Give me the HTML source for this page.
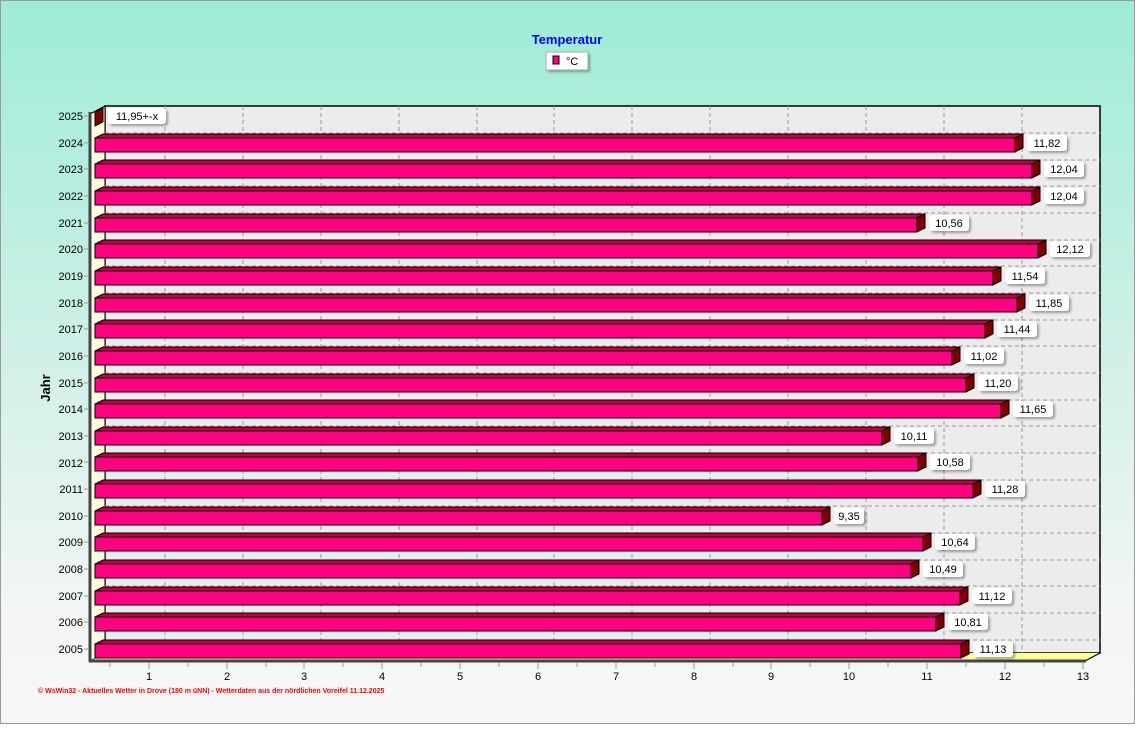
<!DOCTYPE html>
<html><head><meta charset="utf-8"><style>
html,body{margin:0;padding:0;}
body{width:1135px;height:724px;overflow:hidden;font-family:"Liberation Sans",sans-serif;}
svg text{font-family:"Liberation Sans",sans-serif;}
</style></head><body>
<svg width="1135" height="724" viewBox="0 0 1135 724" xmlns="http://www.w3.org/2000/svg">
<defs>
<linearGradient id="bg" x1="0" y1="0" x2="0" y2="1">
<stop offset="0" stop-color="#9decd6"/>
<stop offset="0.55" stop-color="#d6f1ea"/>
<stop offset="0.85" stop-color="#f3f6f5"/>
<stop offset="1" stop-color="#f7f7f7"/>
</linearGradient>
<filter id="sh" x="-20%" y="-20%" width="150%" height="160%"><feDropShadow dx="2" dy="2" stdDeviation="1.2" flood-color="#000" flood-opacity="0.35"/></filter>
<g id="lb"><rect x="0" y="-8" width="40" height="16" rx="3" fill="#fff" filter="url(#sh)"/></g>
</defs>
<rect x="0" y="0" width="1135" height="724" fill="url(#bg)"/>
<rect x="0.5" y="0.5" width="1134" height="723" fill="none" stroke="#9a9a9a"/>
<text x="567" y="44" text-anchor="middle" font-size="13" font-weight="bold" fill="#0000ff">Temperatur</text>
<rect x="546" y="52" width="42" height="18" fill="#fff" filter="url(#sh)"/>
<rect x="546" y="52" width="42" height="18" fill="none" stroke="#aaa"/>
<rect x="553" y="56" width="6" height="8" fill="#ff0080" stroke="#000" stroke-width="1"/>
<text x="566" y="65" font-size="11" fill="#000">°C</text>
<!-- back plane -->
<rect x="105" y="106" width="995" height="547" fill="#ececec" stroke="#000" stroke-width="1.5"/>
<!-- left wall and floor -->
<polygon points="90,114 105,106 105,653 90,661" fill="#fffde0" stroke="#000" stroke-width="1"/>
<polygon points="90,661 105,653 1100,653 1085,661" fill="#ffff99"/>
<line x1="1100" y1="653" x2="1085" y2="661" stroke="#000"/>
<!-- gridlines -->
<g stroke="#999" stroke-dasharray="4,3" stroke-width="1">
<line x1="165" y1="106" x2="165" y2="653"/><line x1="243" y1="106" x2="243" y2="653"/><line x1="321" y1="106" x2="321" y2="653"/><line x1="399" y1="106" x2="399" y2="653"/><line x1="477" y1="106" x2="477" y2="653"/><line x1="554" y1="106" x2="554" y2="653"/><line x1="632" y1="106" x2="632" y2="653"/><line x1="710" y1="106" x2="710" y2="653"/><line x1="788" y1="106" x2="788" y2="653"/><line x1="866" y1="106" x2="866" y2="653"/><line x1="944" y1="106" x2="944" y2="653"/><line x1="1022" y1="106" x2="1022" y2="653"/>
<line x1="105" y1="133" x2="1100" y2="133"/><line x1="105" y1="160" x2="1100" y2="160"/><line x1="105" y1="186" x2="1100" y2="186"/><line x1="105" y1="213" x2="1100" y2="213"/><line x1="105" y1="240" x2="1100" y2="240"/><line x1="105" y1="266" x2="1100" y2="266"/><line x1="105" y1="293" x2="1100" y2="293"/><line x1="105" y1="320" x2="1100" y2="320"/><line x1="105" y1="346" x2="1100" y2="346"/><line x1="105" y1="373" x2="1100" y2="373"/><line x1="105" y1="400" x2="1100" y2="400"/><line x1="105" y1="426" x2="1100" y2="426"/><line x1="105" y1="453" x2="1100" y2="453"/><line x1="105" y1="480" x2="1100" y2="480"/><line x1="105" y1="506" x2="1100" y2="506"/><line x1="105" y1="533" x2="1100" y2="533"/><line x1="105" y1="560" x2="1100" y2="560"/><line x1="105" y1="586" x2="1100" y2="586"/><line x1="105" y1="613" x2="1100" y2="613"/><line x1="105" y1="640" x2="1100" y2="640"/>
</g>
<!-- axes -->
<line x1="90" y1="112" x2="90" y2="662" stroke="#444" stroke-width="3"/>
<line x1="89" y1="661" x2="1086" y2="661" stroke="#444" stroke-width="3"/>
<g stroke="#999" stroke-width="1">
<line x1="110" y1="663" x2="110" y2="667"/><line x1="149" y1="663" x2="149" y2="669"/><line x1="188" y1="663" x2="188" y2="667"/><line x1="227" y1="663" x2="227" y2="669"/><line x1="266" y1="663" x2="266" y2="667"/><line x1="304" y1="663" x2="304" y2="669"/><line x1="343" y1="663" x2="343" y2="667"/><line x1="382" y1="663" x2="382" y2="669"/><line x1="421" y1="663" x2="421" y2="667"/><line x1="460" y1="663" x2="460" y2="669"/><line x1="499" y1="663" x2="499" y2="667"/><line x1="538" y1="663" x2="538" y2="669"/><line x1="577" y1="663" x2="577" y2="667"/><line x1="616" y1="663" x2="616" y2="669"/><line x1="655" y1="663" x2="655" y2="667"/><line x1="694" y1="663" x2="694" y2="669"/><line x1="733" y1="663" x2="733" y2="667"/><line x1="771" y1="663" x2="771" y2="669"/><line x1="810" y1="663" x2="810" y2="667"/><line x1="849" y1="663" x2="849" y2="669"/><line x1="888" y1="663" x2="888" y2="667"/><line x1="927" y1="663" x2="927" y2="669"/><line x1="966" y1="663" x2="966" y2="667"/><line x1="1005" y1="663" x2="1005" y2="669"/><line x1="1044" y1="663" x2="1044" y2="667"/><line x1="1083" y1="663" x2="1083" y2="669"/>
</g>
<g font-size="11" text-anchor="middle" fill="#000">
<text x="149" y="680">1</text><text x="227" y="680">2</text><text x="304" y="680">3</text><text x="382" y="680">4</text><text x="460" y="680">5</text><text x="538" y="680">6</text><text x="616" y="680">7</text><text x="694" y="680">8</text><text x="771" y="680">9</text><text x="849" y="680">10</text><text x="927" y="680">11</text><text x="1005" y="680">12</text><text x="1083" y="680">13</text>
</g>
<text x="50" y="388" font-size="13" font-weight="bold" text-anchor="middle" transform="rotate(-90 50 388)">Jahr</text>
<!-- year labels -->
<g font-size="11" text-anchor="end" fill="#000">
<text x="83" y="120">2025</text><text x="83" y="147">2024</text><text x="83" y="173">2023</text><text x="83" y="200">2022</text><text x="83" y="227">2021</text><text x="83" y="253">2020</text><text x="83" y="280">2019</text><text x="83" y="307">2018</text><text x="83" y="333">2017</text><text x="83" y="360">2016</text><text x="83" y="387">2015</text><text x="83" y="413">2014</text><text x="83" y="440">2013</text><text x="83" y="467">2012</text><text x="83" y="493">2011</text><text x="83" y="520">2010</text><text x="83" y="546">2009</text><text x="83" y="573">2008</text><text x="83" y="600">2007</text><text x="83" y="626">2006</text><text x="83" y="653">2005</text>
</g>
<g stroke="#999"><line x1="84" y1="116" x2="89" y2="116"/><line x1="84" y1="143" x2="89" y2="143"/><line x1="84" y1="169" x2="89" y2="169"/><line x1="84" y1="196" x2="89" y2="196"/><line x1="84" y1="223" x2="89" y2="223"/><line x1="84" y1="249" x2="89" y2="249"/><line x1="84" y1="276" x2="89" y2="276"/><line x1="84" y1="303" x2="89" y2="303"/><line x1="84" y1="329" x2="89" y2="329"/><line x1="84" y1="356" x2="89" y2="356"/><line x1="84" y1="383" x2="89" y2="383"/><line x1="84" y1="409" x2="89" y2="409"/><line x1="84" y1="436" x2="89" y2="436"/><line x1="84" y1="462" x2="89" y2="462"/><line x1="84" y1="489" x2="89" y2="489"/><line x1="84" y1="516" x2="89" y2="516"/><line x1="84" y1="542" x2="89" y2="542"/><line x1="84" y1="569" x2="89" y2="569"/><line x1="84" y1="596" x2="89" y2="596"/><line x1="84" y1="622" x2="89" y2="622"/><line x1="84" y1="649" x2="89" y2="649"/></g>
<!-- 2025 stub -->
<polygon points="95,112 103,108 103,122 95,126" fill="#800000" stroke="#000"/>
<rect x="108" y="108" width="58" height="16" rx="3" fill="#fff" filter="url(#sh)"/>
<text x="137" y="120" font-size="11" text-anchor="middle">11,95+-x</text>
<!-- bars -->
<g stroke="#000" stroke-width="1" font-size="11" text-anchor="middle">
<g transform="translate(0,143)"><polygon points="95,-5 103,-9 1023,-9 1015,-5" fill="#c00040"/><rect x="95" y="-5" width="920" height="14" fill="#ff0080"/><polygon points="1015,-5 1023,-9 1023,5 1015,9" fill="#800000"/><g transform="translate(1027,0)" stroke="none"><use href="#lb"/><text x="20" y="4">11,82</text></g></g>
<g transform="translate(0,169)"><polygon points="95,-5 103,-9 1040,-9 1032,-5" fill="#c00040"/><rect x="95" y="-5" width="937" height="14" fill="#ff0080"/><polygon points="1032,-5 1040,-9 1040,5 1032,9" fill="#800000"/><g transform="translate(1044,0)" stroke="none"><use href="#lb"/><text x="20" y="4">12,04</text></g></g>
<g transform="translate(0,196)"><polygon points="95,-5 103,-9 1040,-9 1032,-5" fill="#c00040"/><rect x="95" y="-5" width="937" height="14" fill="#ff0080"/><polygon points="1032,-5 1040,-9 1040,5 1032,9" fill="#800000"/><g transform="translate(1044,0)" stroke="none"><use href="#lb"/><text x="20" y="4">12,04</text></g></g>
<g transform="translate(0,223)"><polygon points="95,-5 103,-9 925,-9 917,-5" fill="#c00040"/><rect x="95" y="-5" width="822" height="14" fill="#ff0080"/><polygon points="917,-5 925,-9 925,5 917,9" fill="#800000"/><g transform="translate(929,0)" stroke="none"><use href="#lb"/><text x="20" y="4">10,56</text></g></g>
<g transform="translate(0,249)"><polygon points="95,-5 103,-9 1046,-9 1038,-5" fill="#c00040"/><rect x="95" y="-5" width="943" height="14" fill="#ff0080"/><polygon points="1038,-5 1046,-9 1046,5 1038,9" fill="#800000"/><g transform="translate(1050,0)" stroke="none"><use href="#lb"/><text x="20" y="4">12,12</text></g></g>
<g transform="translate(0,276)"><polygon points="95,-5 103,-9 1001,-9 993,-5" fill="#c00040"/><rect x="95" y="-5" width="898" height="14" fill="#ff0080"/><polygon points="993,-5 1001,-9 1001,5 993,9" fill="#800000"/><g transform="translate(1005,0)" stroke="none"><use href="#lb"/><text x="20" y="4">11,54</text></g></g>
<g transform="translate(0,303)"><polygon points="95,-5 103,-9 1025,-9 1017,-5" fill="#c00040"/><rect x="95" y="-5" width="922" height="14" fill="#ff0080"/><polygon points="1017,-5 1025,-9 1025,5 1017,9" fill="#800000"/><g transform="translate(1029,0)" stroke="none"><use href="#lb"/><text x="20" y="4">11,85</text></g></g>
<g transform="translate(0,329)"><polygon points="95,-5 103,-9 993,-9 985,-5" fill="#c00040"/><rect x="95" y="-5" width="890" height="14" fill="#ff0080"/><polygon points="985,-5 993,-9 993,5 985,9" fill="#800000"/><g transform="translate(997,0)" stroke="none"><use href="#lb"/><text x="20" y="4">11,44</text></g></g>
<g transform="translate(0,356)"><polygon points="95,-5 103,-9 960,-9 952,-5" fill="#c00040"/><rect x="95" y="-5" width="857" height="14" fill="#ff0080"/><polygon points="952,-5 960,-9 960,5 952,9" fill="#800000"/><g transform="translate(964,0)" stroke="none"><use href="#lb"/><text x="20" y="4">11,02</text></g></g>
<g transform="translate(0,383)"><polygon points="95,-5 103,-9 974,-9 966,-5" fill="#c00040"/><rect x="95" y="-5" width="871" height="14" fill="#ff0080"/><polygon points="966,-5 974,-9 974,5 966,9" fill="#800000"/><g transform="translate(978,0)" stroke="none"><use href="#lb"/><text x="20" y="4">11,20</text></g></g>
<g transform="translate(0,409)"><polygon points="95,-5 103,-9 1009,-9 1001,-5" fill="#c00040"/><rect x="95" y="-5" width="906" height="14" fill="#ff0080"/><polygon points="1001,-5 1009,-9 1009,5 1001,9" fill="#800000"/><g transform="translate(1013,0)" stroke="none"><use href="#lb"/><text x="20" y="4">11,65</text></g></g>
<g transform="translate(0,436)"><polygon points="95,-5 103,-9 890,-9 882,-5" fill="#c00040"/><rect x="95" y="-5" width="787" height="14" fill="#ff0080"/><polygon points="882,-5 890,-9 890,5 882,9" fill="#800000"/><g transform="translate(894,0)" stroke="none"><use href="#lb"/><text x="20" y="4">10,11</text></g></g>
<g transform="translate(0,462)"><polygon points="95,-5 103,-9 926,-9 918,-5" fill="#c00040"/><rect x="95" y="-5" width="823" height="14" fill="#ff0080"/><polygon points="918,-5 926,-9 926,5 918,9" fill="#800000"/><g transform="translate(930,0)" stroke="none"><use href="#lb"/><text x="20" y="4">10,58</text></g></g>
<g transform="translate(0,489)"><polygon points="95,-5 103,-9 981,-9 973,-5" fill="#c00040"/><rect x="95" y="-5" width="878" height="14" fill="#ff0080"/><polygon points="973,-5 981,-9 981,5 973,9" fill="#800000"/><g transform="translate(985,0)" stroke="none"><use href="#lb"/><text x="20" y="4">11,28</text></g></g>
<g transform="translate(0,516)"><polygon points="95,-5 103,-9 830,-9 822,-5" fill="#c00040"/><rect x="95" y="-5" width="727" height="14" fill="#ff0080"/><polygon points="822,-5 830,-9 830,5 822,9" fill="#800000"/><g transform="translate(834,0)" stroke="none"><rect x="0" y="-8" width="30" height="16" rx="3" fill="#fff" filter="url(#sh)"/><text x="15" y="4">9,35</text></g></g>
<g transform="translate(0,542)"><polygon points="95,-5 103,-9 931,-9 923,-5" fill="#c00040"/><rect x="95" y="-5" width="828" height="14" fill="#ff0080"/><polygon points="923,-5 931,-9 931,5 923,9" fill="#800000"/><g transform="translate(935,0)" stroke="none"><use href="#lb"/><text x="20" y="4">10,64</text></g></g>
<g transform="translate(0,569)"><polygon points="95,-5 103,-9 919,-9 911,-5" fill="#c00040"/><rect x="95" y="-5" width="816" height="14" fill="#ff0080"/><polygon points="911,-5 919,-9 919,5 911,9" fill="#800000"/><g transform="translate(923,0)" stroke="none"><use href="#lb"/><text x="20" y="4">10,49</text></g></g>
<g transform="translate(0,596)"><polygon points="95,-5 103,-9 968,-9 960,-5" fill="#c00040"/><rect x="95" y="-5" width="865" height="14" fill="#ff0080"/><polygon points="960,-5 968,-9 968,5 960,9" fill="#800000"/><g transform="translate(972,0)" stroke="none"><use href="#lb"/><text x="20" y="4">11,12</text></g></g>
<g transform="translate(0,622)"><polygon points="95,-5 103,-9 944,-9 936,-5" fill="#c00040"/><rect x="95" y="-5" width="841" height="14" fill="#ff0080"/><polygon points="936,-5 944,-9 944,5 936,9" fill="#800000"/><g transform="translate(948,0)" stroke="none"><use href="#lb"/><text x="20" y="4">10,81</text></g></g>
<g transform="translate(0,649)"><polygon points="95,-5 103,-9 969,-9 961,-5" fill="#c00040"/><rect x="95" y="-5" width="866" height="14" fill="#ff0080"/><polygon points="961,-5 969,-9 969,5 961,9" fill="#800000"/><g transform="translate(973,0)" stroke="none"><use href="#lb"/><text x="20" y="4">11,13</text></g></g>
</g>
<text x="38" y="693" font-size="7" font-weight="bold" fill="#ff0000">© WsWin32  -  Aktuelles Wetter in Drove (180 m üNN)  -  Wetterdaten aus der nördlichen Voreifel  11.12.2025</text>
</svg>
</body></html>
